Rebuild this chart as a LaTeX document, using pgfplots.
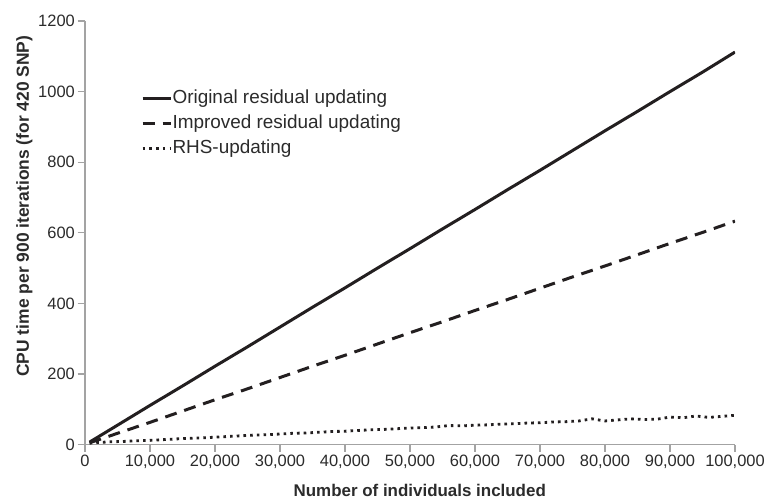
\documentclass[border=0pt]{standalone}
\usepackage{fontspec}
\setmainfont{Liberation Sans}
\usepackage{pgfplots}
\pgfplotsset{compat=1.18}
\definecolor{ink}{HTML}{231F20}
\definecolor{axgray}{HTML}{A3A3A3}
\definecolor{lbl}{HTML}{2B2B2B}
\begin{document}
\begin{tikzpicture}
\path[use as bounding box] (-85bp,-55.4bp) rectangle (686bp,444.6bp);
\begin{axis}[
  at={(0,0)}, anchor=south west,
  scale only axis, width=650bp, height=423.6bp,
  xmin=0, xmax=100000, ymin=0, ymax=1200,
  axis lines*=left,
  axis line style={axgray, line width=1.2bp},
  tick style={axgray, line width=1.2bp},
  tick align=outside, major tick length=7.5bp,
  xtick={0,10000,20000,30000,40000,50000,60000,70000,80000,90000,100000},
  ytick={0,200,400,600,800,1000,1200},
  scaled x ticks=false, scaled y ticks=false,
  /pgf/number format/fixed,
  /pgf/number format/assume math mode=true,
  x tick label style={/pgf/number format/1000 sep={,}},
  y tick label style={/pgf/number format/1000 sep={}},
  tick label style={font=\fontsize{16.5}{20}\selectfont, text=lbl, inner sep=2.5bp},
  xlabel={Number of individuals included},
  ylabel={CPU time per 900 iterations (for 420 SNP)},
  xlabel style={font=\fontsize{17}{21}\selectfont\bfseries, text=lbl, at={(axis description cs:0.515,-0.1072)}, anchor=center},
  ylabel style={font=\fontsize{17.5}{21}\selectfont\bfseries, text=lbl, at={(axis description cs:-0.0934,0.563)}, anchor=center},
  legend cell align=left,
  legend style={draw=none, fill=none, inner sep=0pt, at={(0.0862,0.8376)}, anchor=north west,
    nodes={inner sep=0pt, text height=13.5bp, text depth=4bp, font=\fontsize{19}{22}\selectfont, text=lbl},
    row sep=7.5bp, /tikz/every even column/.append style={column sep=2bp}},
  legend image code/.code={\draw[#1] (0bp,0bp) -- (28.3bp,0bp);},
]
\addplot[ink, line width=3bp] coordinates {
(700,7) (5000,55) (10000,111) (15000,166) (20000,222) (25000,277) (30000,333)
(35000,389) (40000,444) (45000,500) (50000,555) (55000,611) (60000,666) (65000,722)
(70000,777) (75000,833) (80000,889) (85000,944) (90000,1000) (95000,1055) (100000,1112)
};
\addlegendentry{Original residual updating}
\addplot[ink, line width=3bp, dash pattern=on 12bp off 8bp] coordinates {
(700,5) (5000,32) (10000,63) (15000,95) (20000,127) (25000,158) (30000,190)
(35000,222) (40000,253) (45000,285) (50000,317) (55000,348) (60000,380) (65000,411)
(70000,443) (75000,475) (80000,506) (85000,538) (90000,570) (95000,601) (100000,633)
};
\addlegendentry{Improved residual updating}
\addplot[ink, line width=2.8bp, dash pattern=on 2.6bp off 4.1bp] coordinates {
(700,4) (2000,6) (4000,8) (6000,9) (8000,11) (10000,12) (12000,14) (14000,16)
(16000,18) (18000,19) (20000,21) (22000,23) (24000,25) (26000,27) (28000,28)
(30000,30) (32000,32) (34000,33) (36000,35) (38000,37) (40000,38) (42000,40)
(44000,42) (46000,43) (48000,45) (50000,47) (52000,48) (54000,50) (56000,54)
(58000,53) (60000,55) (62000,56) (64000,58) (66000,59) (68000,61) (70000,62)
(72000,64) (74000,65) (76000,67) (78000,73) (80000,67) (82000,70) (84000,73)
(86000,71) (88000,72) (90000,78) (92000,76) (94000,81) (96000,77) (98000,80)
(100000,83)
};
\addlegendentry{RHS-updating}
\end{axis}
\end{tikzpicture}
\end{document}
